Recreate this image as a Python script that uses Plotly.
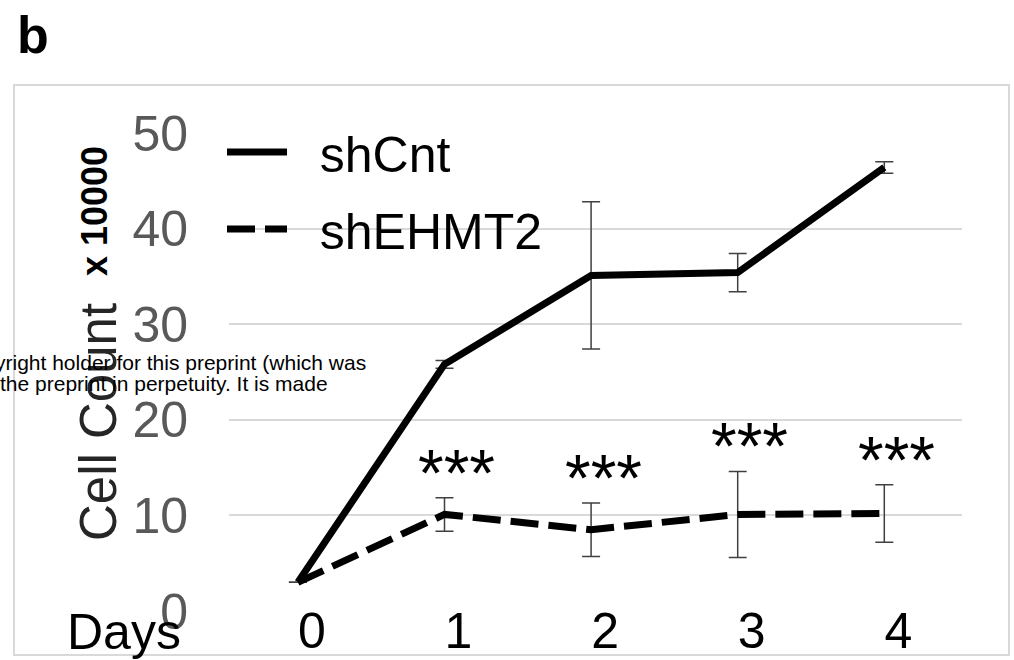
import plotly.graph_objects as go

days = [0, 1, 2, 3, 4]
day_labels = ["0", "1", "2", "3", "4"]
shcnt = [3.0, 25.8, 35.1, 35.4, 46.4]
shcnt_err = [0.0, 0.4, 7.7, 2.0, 0.6]
shehmt2 = [3.0, 10.1, 8.5, 10.1, 10.2]
shehmt2_err = [0.0, 1.75, 2.8, 4.5, 3.0]
sig_labels = ["", "***", "***", "***", "***"]
y_ticks = [0, 10, 20, 30, 40, 50]

W, H = 1014, 660
L, R, T, B = 229, 52, 133, 49
PW, PH = W - L - R, H - T - B

def px(x):
    return (x - L) / PW

def py(y):
    return (H - B - y) / PH

FONT = "Liberation Sans, Arial, sans-serif"
NB = "\u00a0\u00a0"

fig = go.Figure()
fig.add_trace(go.Scatter(
    x=days, y=shcnt, name=NB + "shCnt", mode="lines", legendgroup="a",
    line=dict(color="black", width=7),
    error_y=dict(type="data", array=shcnt_err, color="#404040", thickness=1.5, width=9),
))
fig.add_trace(go.Scatter(
    x=days, y=shehmt2, name=NB + "shEHMT2", mode="lines", legendgroup="b",
    line=dict(color="black", width=7, dash="28px,10px"),
    error_y=dict(type="data", array=shehmt2_err, color="#404040", thickness=1.5, width=9),
))

annotations = []
for d, m, e, s in zip(days, shehmt2, shehmt2_err, sig_labels):
    if s:
        annotations.append(dict(
            x=d, y=m + e, xref="x", yref="y", text=s, showarrow=False,
            xshift=12, yshift=25, yanchor="middle",
            font=dict(family=FONT, size=66, color="black"),
        ))

annotations += [
    dict(x=px(15), y=py(35), xref="paper", yref="paper", text="<b>b</b>",
         showarrow=False, xanchor="left", yanchor="middle",
         font=dict(family=FONT, size=52, color="black")),
    dict(x=px(98), y=py(422), xref="paper", yref="paper", text="Cell Count",
         textangle=-90, showarrow=False, xanchor="center", yanchor="middle",
         font=dict(family=FONT, size=51, color="#262626")),
    dict(x=px(94), y=py(211), xref="paper", yref="paper", text="<b>x 10000</b>",
         textangle=-90, showarrow=False, xanchor="center", yanchor="middle",
         font=dict(family=FONT, size=36, color="black")),
    dict(x=px(124), y=py(632), xref="paper", yref="paper", text="Days",
         showarrow=False, xanchor="center", yanchor="middle",
         font=dict(family=FONT, size=50, color="black")),
    dict(x=px(368), y=py(362), xref="paper", yref="paper",
         text="yright holder for this preprint (which was",
         showarrow=False, xanchor="right", yanchor="middle",
         font=dict(family=FONT, size=21, color="black")),
    dict(x=px(330), y=py(383), xref="paper", yref="paper",
         text="the preprint in perpetuity. It is made",
         showarrow=False, xanchor="right", yanchor="middle",
         font=dict(family=FONT, size=21, color="black")),
]

fig.update_layout(
    width=W, height=H,
    margin=dict(l=L, r=R, t=T, b=B, pad=0, autoexpand=False),
    paper_bgcolor="white", plot_bgcolor="white",
    font=dict(family=FONT, color="black"),
    showlegend=True,
    legend=dict(
        x=px(222), y=py(113), xanchor="left", yanchor="top",
        bgcolor="rgba(0,0,0,0)", font=dict(family=FONT, size=50, color="black"),
        itemwidth=60, tracegroupgap=9,
    ),
    annotations=annotations,
    shapes=[dict(type="rect", xref="paper", yref="paper",
                 x0=px(14), x1=px(1009), y0=py(655), y1=py(85),
                 line=dict(color="#d9d9d9", width=2), layer="below")],
    xaxis=dict(
        range=[-0.47, 4.53], tickvals=days, ticktext=day_labels,
        showgrid=False, zeroline=False, showline=False, ticks="",
        tickfont=dict(family=FONT, size=50, color="black"),
        ticklabelshift=14, ticklabelstandoff=-14, automargin=False,
    ),
    yaxis=dict(
        range=[0, 50], tickvals=y_ticks,
        showgrid=True, gridcolor="#d9d9d9", gridwidth=2,
        zeroline=False, showline=False, ticks="",
        tickfont=dict(family=FONT, size=50, color="#595959"),
        ticklabelstandoff=40, automargin=False,
    ),
)

fig.write_html("out.html")
